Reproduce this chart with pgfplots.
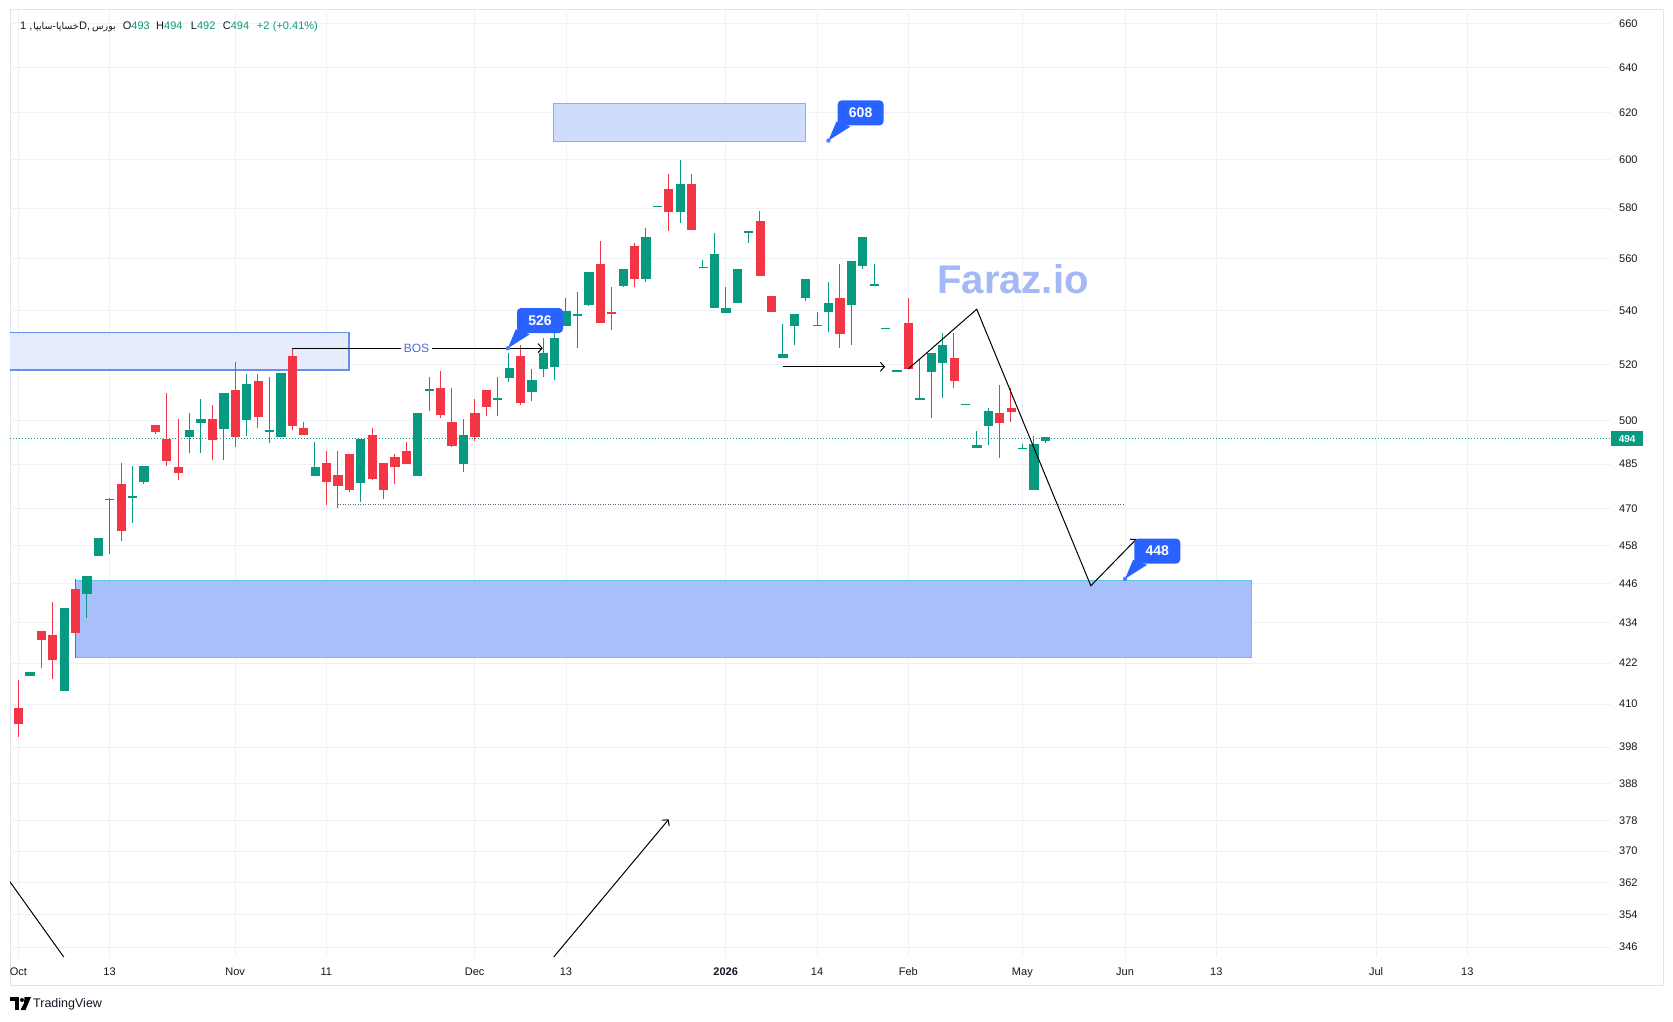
\documentclass[border=0pt]{standalone}
\usepackage{fontspec}
\setmainfont{Liberation Sans}
\newfontfamily\arabicfont[Script=Arabic]{DejaVu Sans}
\TeXXeTstate=1
\usepackage{pgfplots}
\usepackage{pgfplotstable}
\pgfplotsset{compat=1.18}
\usetikzlibrary{arrows.meta}

\definecolor{tvgreen}{HTML}{089981}
\definecolor{tvred}{HTML}{F23645}
\definecolor{tvblue}{HTML}{2962FF}
\definecolor{tvtext}{HTML}{131722}
\definecolor{gridc}{HTML}{EEF1F7}
\definecolor{framec}{HTML}{E0E3EB}
\definecolor{zonefill}{HTML}{A9BFFB}
\definecolor{zoneedge}{HTML}{5CC8E2}
\definecolor{topfill}{HTML}{D0DCFC}
\definecolor{leftfill}{HTML}{E5ECFD}
\definecolor{leftedge}{HTML}{6A8EEA}
\definecolor{boscol}{HTML}{4A6CD8}
\definecolor{wmcol}{HTML}{A4B8F5}
\definecolor{supcol}{HTML}{5D606B}

\pgfplotstableread{
i o h l c
0 408.7 416.9 400.8 404.6
1 418.4 419.2 418.4 419.2
2 431.4 431.4 420.4 429.1
3 430.2 440.3 417.2 423.2
4 414.0 438.5 414.0 438.5
5 444.3 447.4 423.5 431.2
6 443.1 448.3 435.5 448.3
7 455.1 460.4 455.1 460.4
8 473.0 473.5 455.4 473.1
9 478.2 485.3 459.5 463.1
10 473.8 484.3 465.4 474.1
11 479.0 484.3 478.3 484.3
12 498.4 498.4 495.4 496.1
13 493.5 509.5 484.4 486.1
14 483.7 500.5 479.5 482.0
15 494.4 502.7 488.7 496.4
16 499.2 507.7 488.7 500.5
17 500.5 505.5 486.4 493.4
18 497.1 509.5 486.4 509.5
19 510.5 521.0 490.8 494.4
20 500.3 516.6 494.7 512.7
21 513.7 516.6 497.4 501.3
22 496.2 515.5 492.0 496.4
23 494.4 516.6 494.4 516.6
24 522.9 526.1 496.6 498.2
25 497.3 499.5 495.0 495.0
26 481.0 492.4 481.0 483.7
27 485.3 489.4 471.3 479.0
28 481.2 489.4 470.4 477.9
29 488.4 488.4 475.5 476.5
30 478.9 493.5 472.4 493.5
31 494.7 497.3 479.5 480.1
32 485.2 485.2 473.2 476.5
33 487.3 488.3 478.3 484.2
34 489.4 492.4 485.1 485.1
35 481.1 502.6 481.1 502.6
36 510.6 515.5 503.3 510.9
37 511.5 517.7 500.7 502.3
38 499.5 511.5 490.8 491.4
39 485.1 500.5 482.3 494.7
40 502.6 507.6 492.8 494.3
41 510.5 510.5 501.6 505.1
42 507.4 515.5 501.6 507.6
43 515.3 524.0 513.7 518.4
44 522.9 527.1 505.5 506.3
45 510.2 518.4 506.7 514.4
46 518.5 529.5 515.5 524.0
47 519.1 536.1 514.3 529.5
48 534.2 544.5 534.2 539.5
49 538.3 546.8 526.0 538.6
50 542.3 554.5 541.6 554.5
51 557.6 566.7 535.5 535.5
52 539.3 548.8 532.8 539.0
53 549.5 555.6 548.8 555.6
54 564.9 566.0 548.8 552.3
55 552.3 572.1 550.8 568.1
56 580.6 580.8 580.6 580.8
57 587.8 593.9 571.0 578.6
58 578.6 599.9 574.0 589.8
59 589.8 593.9 571.6 571.6
60 556.4 559.5 556.4 556.6
61 541.2 570.1 541.2 561.6
62 539.2 548.7 539.2 540.6
63 543.1 555.6 543.1 555.6
64 570.3 570.5 566.2 570.5
65 574.6 578.8 553.5 553.5
66 545.3 545.3 539.5 539.5
67 522.5 535.0 522.5 523.6
68 534.3 538.6 527.2 538.6
69 545.0 551.8 543.6 551.8
70 534.3 539.5 534.3 534.5
71 539.5 550.7 531.7 542.7
72 544.5 557.6 526.0 531.3
73 542.3 558.7 527.2 558.7
74 557.3 568.1 555.8 568.1
75 549.6 557.6 549.6 549.8
76 533.2 533.3 533.2 533.3
77 517.6 517.7 517.6 517.7
78 535.0 544.5 518.5 518.5
79 507.4 521.8 507.4 507.6
80 517.5 524.0 500.7 524.0
81 520.8 531.4 508.0 527.1
82 522.2 531.4 511.6 514.2
83 505.5 505.6 505.5 505.6
84 490.6 496.4 490.6 491.2
85 498.2 504.5 491.6 503.3
86 502.6 512.6 487.1 499.2
87 504.4 511.4 499.5 503.1
88 490.3 491.7 490.3 490.4
89 476.5 494.6 476.5 491.6
90 493.0 494.0 492.0 494.0
}\candles

\newcommand\tvlabel[2]{%
  \fill[tvblue] (#1) -- ([xshift=8pt,yshift=19pt]#1) -- ([xshift=22pt,yshift=14pt]#1) -- cycle;
  \fill[tvblue!85!white] (#1) circle (2.2pt);
  \node[fill=tvblue, rounded corners=4pt, minimum width=46pt, minimum height=25pt,
        inner sep=0pt, anchor=south west, text=white,
        font=\bfseries\fontsize{14}{16}\selectfont] at ([xshift=9pt,yshift=15pt]#1) {#2};%
}

\begin{document}
\begin{tikzpicture}
\fill[white] (0pt,0pt) rectangle (1673pt,1021pt);
\draw[framec, line width=1pt] (10pt,36pt) rectangle (1663pt,1011.7pt);
\begin{axis}[
  at={(10pt,64pt)}, anchor=south west,
  width=1601pt, height=947.7pt, scale only axis,
  xmin=-0.73, xmax=139.59,
  ymode=log, ymin=343.6, ymax=666.6,
  axis line style={draw=none},
  major tick length=0pt,
  xmajorgrids, ymajorgrids,
  grid style={gridc, line width=0.8pt},
  xtick={0,8,19,27,40,48,62,70,78,88,97,105,119,127},
  xticklabels={Oct,13,Nov,11,Dec,13,\textbf{2026},14,Feb,May,Jun,13,Jul,13},
  ytick={346,354,362,370,378,388,398,410,422,434,446,458,470,485,500,520,540,560,580,600,620,640,660},
  yticklabels={346,354,362,370,378,388,398,410,422,434,446,458,470,485,500,520,540,560,580,600,620,640,660},
  yticklabel pos=right,
  ticklabel style={font=\fontsize{11}{13}\selectfont, text=tvtext},
  xticklabel style={anchor=base, yshift=-19pt, inner sep=0pt},
  yticklabel style={anchor=west, xshift=8pt, inner sep=0pt},
  /pgf/number format/assume math mode=true,
]
% zones
\fill[leftfill] (axis cs:-2,531.7) rectangle (axis cs:29,518.0);
\draw[leftedge, line width=1.5pt] (axis cs:-2,531.7) -- (axis cs:29,531.7) -- (axis cs:29,518.0) -- (axis cs:-2,518.0);
\filldraw[fill=topfill, draw=zoneedge, line width=1.5pt] (axis cs:46.9,624.1) rectangle (axis cs:69.0,607.6);
\filldraw[fill=zonefill, draw=zoneedge, line width=1.5pt] (axis cs:5,447.0) rectangle (axis cs:108.1,423.6);
% horizontal dotted lines
\draw[tvgreen, line width=1pt, dash pattern=on 1pt off 2pt] (axis cs:-1,493.7) -- (axis cs:141,493.7);
\draw[supcol, line width=1pt, dash pattern=on 1pt off 1.5pt] (axis cs:28,471.4) -- (axis cs:96.9,471.4);
% candles
\pgfplotsforeachungrouped \idx in {0,...,90}{%
  \pgfplotstablegetelem{\idx}{i}\of\candles \let\cx\pgfplotsretval
  \pgfplotstablegetelem{\idx}{o}\of\candles \let\vo\pgfplotsretval
  \pgfplotstablegetelem{\idx}{h}\of\candles \let\vh\pgfplotsretval
  \pgfplotstablegetelem{\idx}{l}\of\candles \let\vl\pgfplotsretval
  \pgfplotstablegetelem{\idx}{c}\of\candles \let\vc\pgfplotsretval
  \pgfmathsetmacro\xa{\cx-0.36}%
  \pgfmathsetmacro\xb{\cx+0.36}%
  \pgfmathtruncatemacro\isup{\vc>=\vo}%
  \ifnum\isup=1 \def\candcol{tvgreen}\else\def\candcol{tvred}\fi
  \edef\temp{\noexpand\draw[\candcol, line width=1pt] (axis cs:\cx,\vl) -- (axis cs:\cx,\vh);
    \noexpand\filldraw[\candcol, line width=0.6pt] (axis cs:\xa,\vo) rectangle (axis cs:\xb,\vc);}%
  \temp
}
% drawings
\draw[black, line width=1pt, -{Straight Barb[length=4pt,width=9pt]}] (axis cs:24,525.9) -- (axis cs:45.96,525.9);
\node[fill=white, text=boscol, font=\fontsize{12}{14}\selectfont, inner sep=3pt] at (axis cs:34.9,525.9) {BOS};
\draw[black, line width=1pt, -{Straight Barb[length=4pt,width=9pt]}] (axis cs:67,519.1) -- (axis cs:75.96,519.1);
\draw[black, line width=1pt, -{Straight Barb[length=4pt,width=9pt]}] (axis cs:78,518.3) -- (axis cs:84,540.4) -- (axis cs:94,445.4) -- (axis cs:98,460.2);
\draw[black, line width=1pt] (axis cs:-0.75,362.2) -- (axis cs:4.03,343.4);
\draw[black, line width=1pt, -{Straight Barb[length=4pt,width=9pt]}] (axis cs:46.9,343.5) -- (axis cs:57,378.3);
\coordinate (p526) at (axis cs:42.9,525.9);
\coordinate (p608) at (axis cs:71,608.1);
\coordinate (p448) at (axis cs:97,447.6);
\coordinate (p494) at (axis cs:139.59,493.7);
\end{axis}
\tvlabel{p526}{526}
\tvlabel{p608}{608}
\tvlabel{p448}{448}
\node[fill=tvgreen, text=white, font=\bfseries\fontsize{10}{12}\selectfont, minimum width=32pt, minimum height=15pt, inner sep=0pt, anchor=west] at (p494) {494};
% watermark
\node[anchor=base, text=wmcol, font=\bfseries\fontsize{40}{44}\selectfont, inner sep=0pt] at (1013pt,727.7pt) {Faraz.io};
% header
\begin{scope}[every node/.style={inner sep=0pt, font=\fontsize{11}{13}\selectfont, text=tvtext}]
\node[anchor=base west] at (20pt,991.7pt) {1 ,};
\node[anchor=base east, font=\arabicfont\fontsize{9.5}{12}\selectfont] at (79pt,991.7pt) {\beginR خساپا-سایپا\endR};
\node[anchor=base west] at (79pt,991.7pt) {D,};
\node[anchor=base east, font=\arabicfont\fontsize{9.5}{12}\selectfont] at (116pt,991.7pt) {\beginR بورس\endR};
\node[anchor=base west] at (122.7pt,991.7pt) {O\textcolor{tvgreen}{493}};
\node[anchor=base west] at (156pt,991.7pt) {H\textcolor{tvgreen}{494}};
\node[anchor=base west] at (190.7pt,991.7pt) {L\textcolor{tvgreen}{492}};
\node[anchor=base west] at (222.7pt,991.7pt) {C\textcolor{tvgreen}{494}};
\node[anchor=base west, text=tvgreen] at (256.7pt,991.7pt) {+2};
\node[anchor=base west, text=tvgreen] at (272.7pt,991.7pt) {(+0.41\%)};
\end{scope}
% TradingView logo
\fill[black] (10pt,24pt) rectangle (19pt,20pt);
\fill[black] (15pt,20pt) rectangle (19pt,11pt);
\fill[black] (22pt,21pt) circle (2pt);
\fill[black] (24.5pt,24pt) -- (31pt,24pt) -- (25.5pt,11pt) -- (20.5pt,11pt) -- (24pt,18pt) -- cycle;
\node[anchor=west, inner sep=0pt, font=\fontsize{12.5}{14}\selectfont, text=tvtext] at (33pt,17pt) {TradingView};
\end{tikzpicture}
\end{document}
